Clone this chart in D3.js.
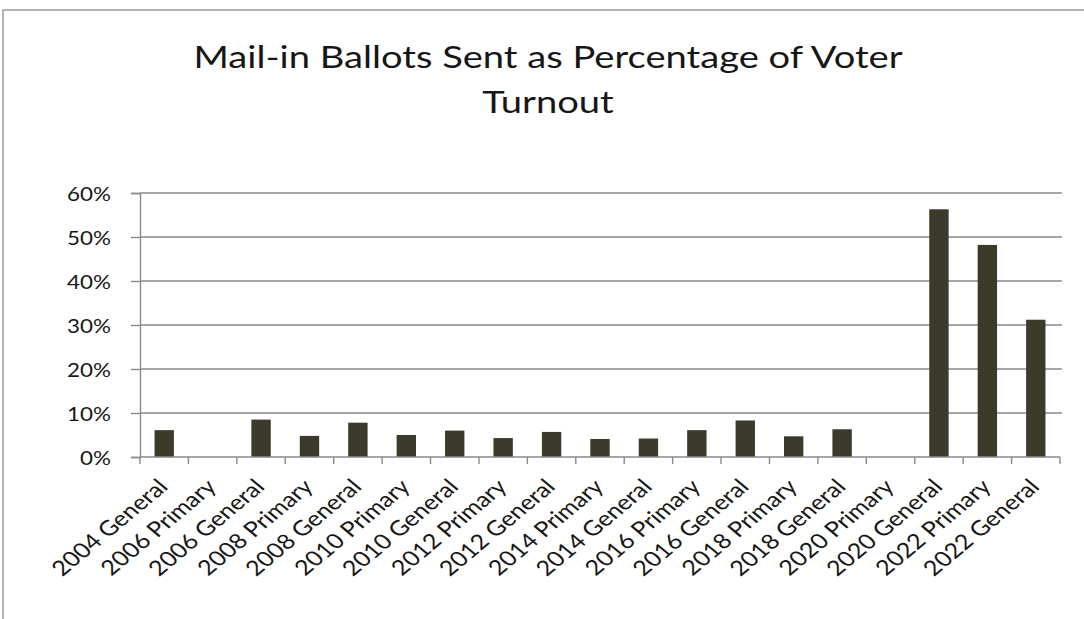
<!DOCTYPE html>
<html>
<head>
<meta charset="utf-8">
<script src="https://cdn.jsdelivr.net/npm/d3@7/dist/d3.min.js"></script>
<style>
  html, body { margin: 0; padding: 0; background: #fff; }
  svg { display: block; }
  text { font-family: Lato, "Open Sans", sans-serif; fill: #161616; }
</style>
</head>
<body>
<svg id="chart" width="1084" height="619"></svg>
<script>
// Elections, in order
const categories = [
  "2004 General", "2006 Primary", "2006 General", "2008 Primary", "2008 General",
  "2010 Primary", "2010 General", "2012 Primary", "2012 General", "2014 Primary",
  "2014 General", "2016 Primary", "2016 General", "2018 Primary", "2018 General",
  "2020 Primary", "2020 General", "2022 Primary", "2022 General"
];
// Mail-in ballots sent, percent of voter turnout
const values = [
  6.1, 0, 8.5, 4.8, 7.8,
  5.0, 6.0, 4.3, 5.7, 4.1,
  4.2, 6.1, 8.3, 4.7, 6.3,
  0, 56.3, 48.2, 31.2
];
const yTicks = [0, 10, 20, 30, 40, 50, 60];
const titleLines = ["Mail-in Ballots Sent as Percentage of Voter", "Turnout"];

const svg = d3.select("#chart");
const W = 1084, H = 619;
const plot = { left: 140, right: 1060, top: 193, bottom: 457 };
const sx = 1.2;            // horizontal stretch of the printed figure
const barColor = "#3b3a2b";
const gridColor = "#8a8a8a";

svg.append("rect").attr("width", W).attr("height", H).attr("fill", "#fff");

// outer frame (top and left edges)
svg.append("path")
  .attr("d", `M3,${H} L3,10 L${W},10`)
  .attr("fill", "none").attr("stroke", "#9a9a9a").attr("stroke-width", 1.5);

const x = d3.scaleBand().domain(categories)
  .range([plot.left, plot.right]).paddingInner(0.6).paddingOuter(0.3);
const xEdges = d3.scaleBand().domain(categories)
  .range([plot.left, plot.right]).padding(0);
const y = d3.scaleLinear().domain([0, 60]).range([plot.bottom, plot.top]);

// horizontal gridlines
svg.append("g").selectAll("line").data(yTicks.filter(d => d > 0)).join("line")
  .attr("x1", plot.left).attr("x2", plot.right + 2)
  .attr("y1", d => y(d)).attr("y2", d => y(d))
  .attr("stroke", gridColor).attr("stroke-width", 1.4);

// bars
svg.append("g").selectAll("rect").data(categories).join("rect")
  .attr("x", d => x(d))
  .attr("width", x.bandwidth())
  .attr("y", (d, i) => y(values[i]))
  .attr("height", (d, i) => y(0) - y(values[i]))
  .attr("fill", barColor);

// y axis
const yAxis = d3.axisLeft(y).tickValues(yTicks).tickSize(9).tickPadding(0)
  .tickFormat(d => d + "%");
const gy = svg.append("g").attr("transform", `translate(${plot.left},0)`).call(yAxis);
gy.select(".domain").attr("stroke", gridColor).attr("stroke-width", 1.4);
gy.selectAll(".tick line").attr("stroke", gridColor).attr("stroke-width", 1.4);
gy.selectAll(".tick text")
  .attr("x", null).attr("dy", "0.36em")
  .attr("text-anchor", "end")
  .attr("transform", `translate(-29,0) scale(1.12,1)`)
  .style("font-size", "20px").style("fill", "#161616");

// x axis: baseline with ticks at category boundaries
const edges = categories.map(c => xEdges(c)).concat([plot.right]);
svg.append("line")
  .attr("x1", plot.left).attr("x2", plot.right)
  .attr("y1", plot.bottom).attr("y2", plot.bottom)
  .attr("stroke", gridColor).attr("stroke-width", 1.4);
svg.append("g").selectAll("line").data(edges).join("line")
  .attr("x1", d => d).attr("x2", d => d)
  .attr("y1", plot.bottom).attr("y2", plot.bottom + 7)
  .attr("stroke", gridColor).attr("stroke-width", 1.4);

// rotated category labels
svg.append("g").selectAll("text").data(categories).join("text")
  .attr("text-anchor", "end")
  .attr("transform", d => {
    const cx = xEdges(d) + xEdges.bandwidth() / 2 + 5;
    return `translate(${cx},${plot.bottom + 31}) scale(${sx},1) rotate(-45)`;
  })
  .style("font-size", "21px")
  .text(d => d);

// title, two centred lines
const titleBase = [68, 113];
const title = svg.append("g");
titleLines.forEach((t, i) => {
  title.append("text")
    .attr("text-anchor", "middle")
    .attr("transform", `translate(548,${titleBase[i]}) scale(1.22,1)`)
    .style("font-size", "28px")
    .text(t);
});
// size the first title line to its printed width, keep both lines at that size
const first = title.select("text").node();
const len = first.getComputedTextLength();
const fs = 28 * 709 / (len * 1.22);
title.selectAll("text").style("font-size", fs + "px");
</script>
</body>
</html>
